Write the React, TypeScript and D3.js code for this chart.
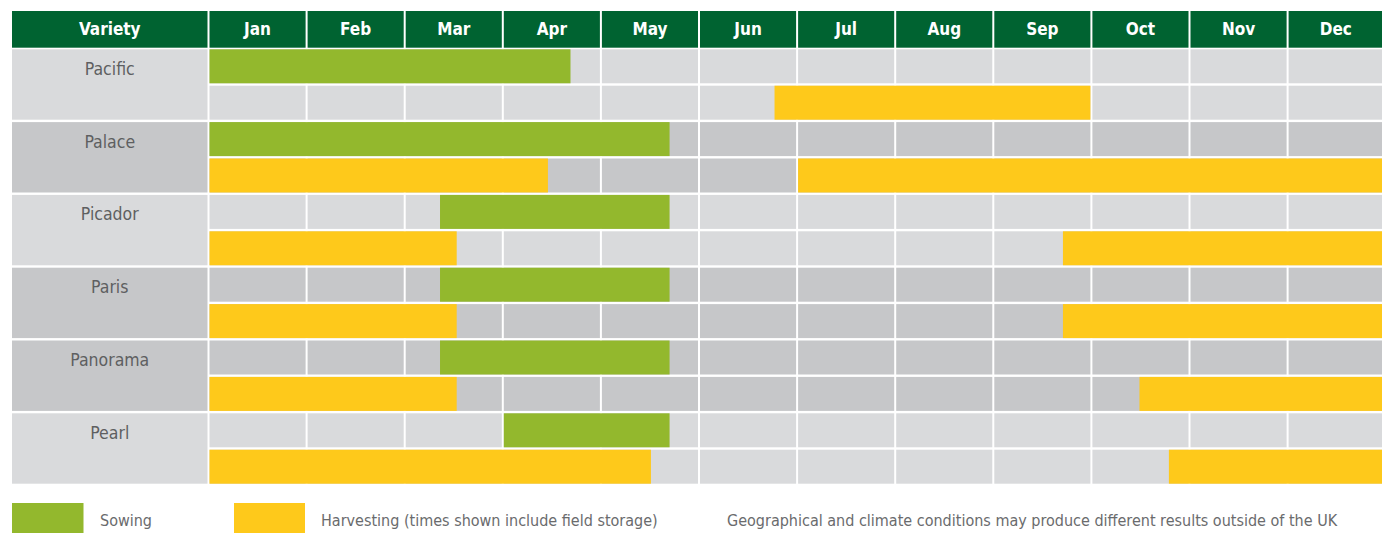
import React from "react";
import * as d3 from "d3";

const months = ["Jan", "Feb", "Mar", "Apr", "May", "Jun", "Jul", "Aug", "Sep", "Oct", "Nov", "Dec"];
const varieties = ["Pacific", "Palace", "Picador", "Paris", "Panorama", "Pearl"];
const shading = ["light", "dark", "light", "dark", "dark", "light"];
// month positions (0 = start of Jan, 12 = end of Dec)
const sowingStart = [0, 0, 2.36, 2.36, 2.36, 3];
const sowingEnd = [3.69, 4.7, 4.7, 4.7, 4.7, 4.7];
const harvest1Start = [5.77, 0, 0, 0, 0, 0];
const harvest1End = [9, 3.46, 2.53, 2.53, 2.53, 4.51];
const harvest2Start: (number | null)[] = [null, 6, 8.71, 8.71, 9.49, 9.79];
const harvest2End: (number | null)[] = [null, 12, 12, 12, 12, 12];
const legendLabels = ["Sowing", "Harvesting (times shown include field storage)"];
const footnote = "Geographical and climate conditions may produce different results outside of the UK";

const W = 1382;
const H = 533;
const FONT = "'Liberation Sans Narrow', 'DejaVu Sans Condensed', 'Arial Narrow', Roboto, sans-serif";
const C: Record<string, string> = {
  header: "#006331",
  light: "#D9DADC",
  dark: "#C6C7C9",
  sow: "#93B82D",
  harvest: "#FEC91B",
  text: "#5E5F61",
  legend: "#6A6B6D",
};

export default function App() {
  const x = d3.scaleLinear().domain([0, 12]).range([208.5, 208.5 + 98.1 * 12]);
  const subRows = d3.range(12);
  const y = d3.scaleBand<number>().domain(subRows).range([49.3, 483.7]).paddingInner(0.066).paddingOuter(0);
  const bw = y.bandwidth();
  const left = 12;
  const varRight = 207.5;

  const barX0 = (s: number) => x(s) + (Number.isInteger(s) ? 1 : 0);
  const barX1 = (e: number) => x(e) - (Number.isInteger(e) ? 1 : 0);

  const bars: { key: string; s: number; e: number; row: number; color: string }[] = [];
  varieties.forEach((v, i) => {
    bars.push({ key: v + "-sow", s: sowingStart[i], e: sowingEnd[i], row: 2 * i, color: C.sow });
    bars.push({ key: v + "-h1", s: harvest1Start[i], e: harvest1End[i], row: 2 * i + 1, color: C.harvest });
    const s2 = harvest2Start[i];
    const e2 = harvest2End[i];
    if (s2 !== null && e2 !== null) {
      bars.push({ key: v + "-h2", s: s2, e: e2, row: 2 * i + 1, color: C.harvest });
    }
  });

  return (
    <svg width={W} height={H} style={{ position: "absolute", left: 0, top: 0, background: "#fff" }} fontFamily={FONT}>
      {/* header */}
      <rect x={left} y={11} width={varRight - left} height={36.7} fill={C.header} />
      <text x={(left + varRight) / 2} y={35} textAnchor="middle" fill="#fff" fontWeight="bold" fontSize={17}>
        Variety
      </text>
      {months.map((m, k) => (
        <g key={m}>
          <rect x={x(k) + 1} y={11} width={Math.min(x(k + 1), W) - x(k) - (k === 11 ? 1 : 2)} height={36.7} fill={C.header} />
          <text x={(x(k) + Math.min(x(k + 1), W + 2)) / 2} y={35} textAnchor="middle" fill="#fff" fontWeight="bold" fontSize={17}>
            {m}
          </text>
        </g>
      ))}

      {/* variety blocks */}
      {varieties.map((v, i) => {
        const fill = C[shading[i]];
        const y0 = y(2 * i)!;
        const y1 = y(2 * i + 1)! + bw;
        return (
          <g key={v}>
            <rect x={left} y={y0} width={varRight - left} height={y1 - y0} fill={fill} />
            <text x={(left + varRight) / 2} y={y0 + 25.5} textAnchor="middle" fill={C.text} fontSize={17.5}>
              {v}
            </text>
            {[2 * i, 2 * i + 1].map((r) =>
              months.map((m, k) => (
                <rect
                  key={r + m}
                  x={x(k) + 1}
                  y={y(r)!}
                  width={Math.min(x(k + 1), W + 1) - x(k) - 2}
                  height={bw}
                  fill={fill}
                />
              ))
            )}
          </g>
        );
      })}

      {/* bars */}
      {bars.map((b) => (
        <rect key={b.key} x={barX0(b.s)} y={y(b.row)!} width={barX1(b.e) - barX0(b.s)} height={bw} fill={b.color} />
      ))}

      {/* legend */}
      <rect x={12} y={503} width={71.5} height={30} fill={C.sow} />
      <text x={100} y={526} fill={C.legend} fontSize={16}>
        {legendLabels[0]}
      </text>
      <rect x={234} y={503} width={71} height={30} fill={C.harvest} />
      <text x={321} y={526} fill={C.legend} fontSize={16}>
        {legendLabels[1]}
      </text>
      <text x={727} y={526} fill={C.legend} fontSize={16}>
        {footnote}
      </text>
    </svg>
  );
}
